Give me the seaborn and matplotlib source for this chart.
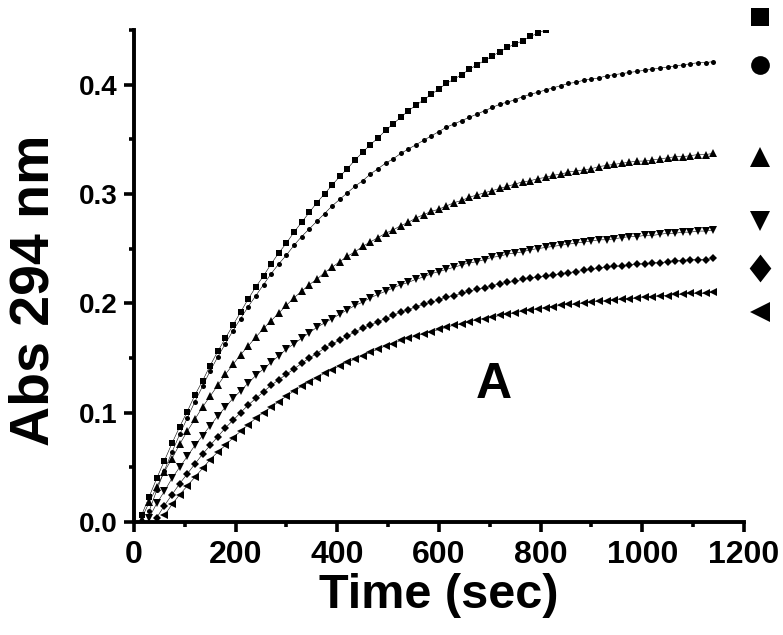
import matplotlib
matplotlib.use("Agg")
import matplotlib.pyplot as plt
import seaborn as sns
from matplotlib.ticker import MultipleLocator, FormatStrFormatter

# sampling times (sec), one point every 15 s
times = [15, 30, 45, 60, 75, 90, 105, 120, 135, 150, 165, 180, 195, 210, 225,
         240, 255, 270, 285, 300, 315, 330, 345, 360, 375, 390, 405, 420, 435,
         450, 465, 480, 495, 510, 525, 540, 555, 570, 585, 600, 615, 630, 645,
         660, 675, 690, 705, 720, 735, 750, 765, 780, 795, 810, 825, 840, 855,
         870, 885, 900, 915, 930, 945, 960, 975, 990, 1005, 1020, 1035, 1050,
         1065, 1080, 1095, 1110, 1125, 1140]

# Abs 294 nm
abs_square = [0.006, 0.023, 0.040, 0.056, 0.072, 0.087, 0.101, 0.116, 0.129, 0.143,
              0.156, 0.168, 0.180, 0.192, 0.204, 0.215, 0.225, 0.236, 0.246, 0.255,
              0.265, 0.274, 0.283, 0.292, 0.300, 0.308, 0.316, 0.323, 0.331, 0.338,
              0.345, 0.351, 0.358, 0.364, 0.370, 0.376, 0.381, 0.386, 0.391, 0.396,
              0.401, 0.405, 0.409, 0.414, 0.418, 0.422, 0.426, 0.430, 0.434, 0.437,
              0.440, 0.444, 0.447, 0.450, 0.453, 0.456]
abs_circle = [0.010, 0.029, 0.047, 0.064, 0.080, 0.095, 0.110, 0.124, 0.138, 0.151,
              0.163, 0.175, 0.186, 0.197, 0.207, 0.217, 0.227, 0.236, 0.244, 0.253,
              0.261, 0.268, 0.275, 0.282, 0.289, 0.295, 0.301, 0.307, 0.312, 0.318,
              0.323, 0.328, 0.332, 0.337, 0.341, 0.345, 0.349, 0.353, 0.357, 0.361,
              0.364, 0.367, 0.370, 0.373, 0.376, 0.379, 0.382, 0.384, 0.386, 0.389,
              0.391, 0.393, 0.395, 0.397, 0.399, 0.401, 0.402, 0.404, 0.405, 0.406,
              0.408, 0.409, 0.410, 0.411, 0.412, 0.413, 0.414, 0.415, 0.416, 0.417,
              0.418, 0.419, 0.420, 0.420, 0.421]
abs_up = [0.003, 0.018, 0.032, 0.046, 0.058, 0.071, 0.083, 0.094, 0.105, 0.115,
          0.125, 0.135, 0.144, 0.153, 0.161, 0.169, 0.177, 0.184, 0.191, 0.198,
          0.205, 0.211, 0.217, 0.222, 0.228, 0.233, 0.238, 0.243, 0.247, 0.252,
          0.256, 0.260, 0.264, 0.267, 0.271, 0.274, 0.278, 0.281, 0.284, 0.286,
          0.289, 0.292, 0.294, 0.297, 0.299, 0.301, 0.303, 0.305, 0.307, 0.309,
          0.311, 0.312, 0.314, 0.315, 0.317, 0.318, 0.320, 0.321, 0.322, 0.323,
          0.325, 0.326, 0.327, 0.328, 0.329, 0.330, 0.330, 0.331, 0.332, 0.333,
          0.334, 0.334, 0.335, 0.336, 0.336, 0.337]
abs_down = [0.004, 0.017, 0.028, 0.040, 0.050, 0.060, 0.070, 0.079, 0.088, 0.097,
            0.105, 0.113, 0.120, 0.127, 0.134, 0.140, 0.146, 0.152, 0.158, 0.163,
            0.168, 0.173, 0.178, 0.182, 0.186, 0.190, 0.194, 0.198, 0.201, 0.205,
            0.208, 0.211, 0.214, 0.217, 0.219, 0.222, 0.224, 0.227, 0.229, 0.231,
            0.233, 0.235, 0.237, 0.238, 0.240, 0.242, 0.243, 0.245, 0.246, 0.247,
            0.249, 0.250, 0.251, 0.252, 0.253, 0.254, 0.255, 0.256, 0.257, 0.258,
            0.258, 0.259, 0.260, 0.261, 0.261, 0.262, 0.262, 0.263, 0.264, 0.264,
            0.265, 0.265, 0.266, 0.266, 0.267]
abs_diamond = [0.004, 0.015, 0.025, 0.035, 0.044, 0.053, 0.062, 0.070, 0.078, 0.086,
               0.093, 0.100, 0.107, 0.113, 0.119, 0.125, 0.130, 0.135, 0.140, 0.145,
               0.150, 0.154, 0.159, 0.163, 0.166, 0.170, 0.174, 0.177, 0.180, 0.183,
               0.186, 0.189, 0.192, 0.194, 0.197, 0.199, 0.201, 0.203, 0.206, 0.207,
               0.209, 0.211, 0.213, 0.214, 0.216, 0.218, 0.219, 0.220, 0.222, 0.223,
               0.224, 0.225, 0.226, 0.227, 0.228, 0.229, 0.230, 0.231, 0.232, 0.233,
               0.234, 0.234, 0.235, 0.236, 0.236, 0.237, 0.237, 0.238, 0.239, 0.239,
               0.240, 0.240, 0.240, 0.241]
abs_left = [0.006, 0.016, 0.025, 0.033, 0.041, 0.049, 0.057, 0.064, 0.070, 0.077,
            0.083, 0.089, 0.095, 0.100, 0.105, 0.110, 0.115, 0.120, 0.124, 0.128,
            0.132, 0.136, 0.139, 0.143, 0.146, 0.149, 0.152, 0.155, 0.158, 0.161,
            0.163, 0.166, 0.168, 0.170, 0.172, 0.174, 0.176, 0.178, 0.180, 0.181,
            0.183, 0.185, 0.186, 0.187, 0.189, 0.190, 0.191, 0.193, 0.194, 0.195,
            0.196, 0.197, 0.198, 0.199, 0.199, 0.200, 0.201, 0.202, 0.202, 0.203,
            0.204, 0.204, 0.205, 0.206, 0.206, 0.207, 0.207, 0.208, 0.208, 0.209,
            0.209, 0.209, 0.210]

# first sample index of each series (earlier points are below zero)
start_index = [0, 1, 0, 1, 2, 3]
series = [abs_square, abs_circle, abs_up, abs_down, abs_diamond, abs_left]

# key markers drawn at the right, next to the curve ends
key_x = 1231
key_y = [0.462, 0.418, 0.334, 0.275, 0.232, 0.192]

tall_diamond = [(-0.78, 0), (0, 1), (0.78, 0), (0, -1), (-0.78, 0)]
curve_markers = ['s', 'o', '^', 'v', 'D', '<']
curve_sizes = [4.2, 3.6, 5.4, 5.4, 4.4, 5.4]
key_markers = ['s', 'o', '^', 'v', tall_diamond, '<']
key_sizes = [13.5, 13.5, 15, 15, 20, 15]

sns.set_style("ticks")
plt.rcParams['font.family'] = ['Liberation Sans', 'DejaVu Sans']
plt.rcParams['font.weight'] = 'bold'
plt.rcParams['text.color'] = 'black'
plt.rcParams['axes.labelcolor'] = 'black'
plt.rcParams['xtick.color'] = 'black'
plt.rcParams['ytick.color'] = 'black'
plt.rcParams['axes.edgecolor'] = 'black'

fig = plt.figure(figsize=(7.83, 6.35), dpi=100)
ax = fig.add_axes([0.171, 0.178, 0.779, 0.775])

for vals, i0, m, ms in zip(series, start_index, curve_markers, curve_sizes):
    t = times[i0:i0 + len(vals)]
    sns.lineplot(x=t, y=vals, ax=ax, color='black', linewidth=0.4,
                 marker=m, markersize=ms, markeredgewidth=0,
                 markerfacecolor='black', estimator=None, sort=False)

for y, m, ms in zip(key_y, key_markers, key_sizes):
    ax.plot([key_x], [y], marker=m, markersize=ms, color='black',
            markeredgewidth=0, linestyle='none', clip_on=False)

ax.text(708, 0.125, 'A', fontsize=36, fontweight='bold', ha='center', va='center')

ax.set_xlim(0, 1200)
ax.set_ylim(0, 0.45)
ax.xaxis.set_major_locator(MultipleLocator(200))
ax.xaxis.set_minor_locator(MultipleLocator(100))
ax.yaxis.set_major_locator(MultipleLocator(0.1))
ax.yaxis.set_minor_locator(MultipleLocator(0.05))
ax.yaxis.set_major_formatter(FormatStrFormatter('%.1f'))

sns.despine(ax=ax)
for s in ['left', 'bottom']:
    ax.spines[s].set_linewidth(2.8)
ax.tick_params(which='major', length=7, width=2.6, direction='out')
ax.tick_params(which='minor', length=3.5, width=2.6, direction='out')
ax.tick_params(axis='x', labelsize=23, pad=6)
ax.tick_params(axis='y', labelsize=20, pad=5)
for lab in ax.get_xticklabels() + ax.get_yticklabels():
    lab.set_fontweight('bold')

ax.set_xlabel('Time (sec)', fontsize=35, fontweight='bold', labelpad=2)
ax.set_ylabel('Abs 294 nm', fontsize=40, fontweight='bold')
ax.yaxis.set_label_coords(-0.12, 0.47)

fig.savefig('out.png', dpi=100)
